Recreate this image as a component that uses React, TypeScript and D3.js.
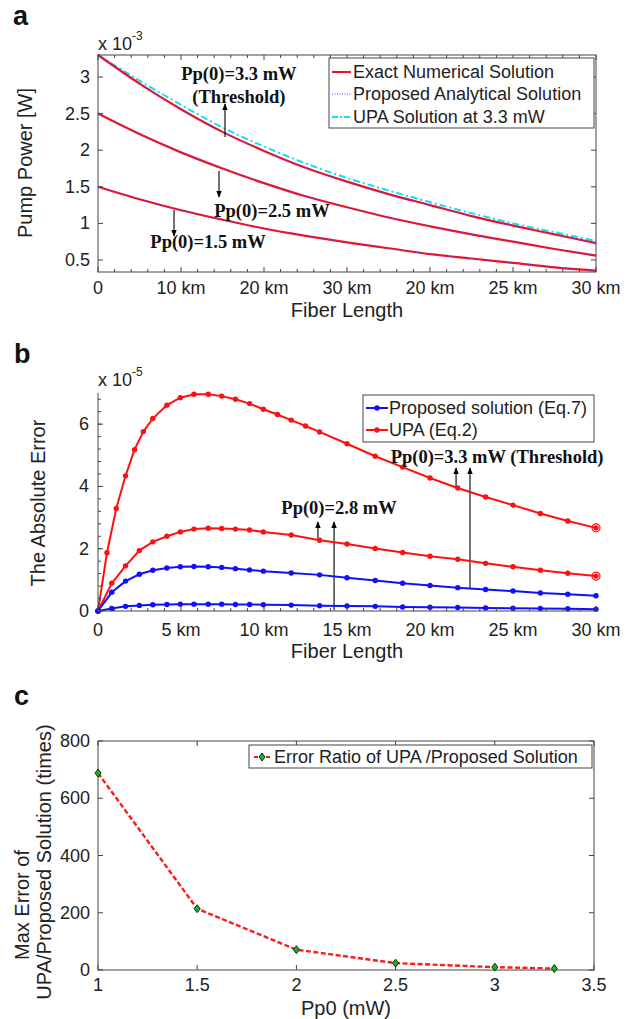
import React from 'react';
import * as d3 from 'd3';

const SANS = "'Liberation Sans', Arial, sans-serif";
const SERIF = "'Liberation Serif', 'Times New Roman', serif";
const AXIS = '#444';

// ---------- Panel a data (Pump power, x1e-3 W) ----------
const aKm = [0, 2.5, 5, 7.5, 10, 12.5, 15, 17.5, 20, 22.5, 25, 27.5, 30];
const aExact33 = [3.3, 2.91, 2.56, 2.25, 1.99, 1.76, 1.57, 1.4, 1.25, 1.1, 0.97, 0.85, 0.73];
const aProp33 = [3.3, 2.91, 2.56, 2.25, 1.99, 1.76, 1.57, 1.4, 1.25, 1.1, 0.97, 0.85, 0.73];
const aUpa33 = [3.3, 2.95, 2.62, 2.31, 2.05, 1.82, 1.62, 1.45, 1.29, 1.14, 1.0, 0.88, 0.76];
const aExact25 = [2.5, 2.22, 1.97, 1.75, 1.55, 1.37, 1.22, 1.08, 0.96, 0.85, 0.75, 0.65, 0.56];
const aProp25 = [2.5, 2.22, 1.97, 1.75, 1.55, 1.37, 1.22, 1.08, 0.96, 0.85, 0.75, 0.65, 0.56];
const aExact15 = [1.5, 1.33, 1.18, 1.05, 0.93, 0.83, 0.74, 0.66, 0.58, 0.52, 0.46, 0.4, 0.355];
const aProp15 = [1.5, 1.33, 1.18, 1.05, 0.93, 0.83, 0.74, 0.66, 0.58, 0.52, 0.46, 0.4, 0.355];
const aXTicks = [0, 5, 10, 15, 20, 25, 30];
const aXTickLabels = ['0', '10 km', '20 km', '30 km', '20 km', '25 km', '30 km'];
const aYTicks = [0.5, 1, 1.5, 2, 2.5, 3];
const aYTickLabels = ['0.5', '1', '1.5', '2', '2.5', '3'];
const aLegend = ['Exact Numerical Solution', 'Proposed Analytical Solution', 'UPA Solution at 3.3 mW'];

// ---------- Panel b data (absolute error, x1e-5) ----------
const bKmFine = [0, 0.54, 1.1, 1.66, 2.2, 2.73, 3.3, 4.15, 4.96, 5.78, 6.64, 7.45, 8.28, 9.13, 9.96, 10.81, 11.64, 12.5, 13.35, 15.0, 16.7, 18.35, 20.0, 21.67, 23.35, 25.0, 26.65, 28.3, 30.0];
const bUpa33 = [0, 1.87, 3.29, 4.34, 5.18, 5.76, 6.18, 6.61, 6.85, 6.96, 6.96, 6.9, 6.8, 6.66, 6.48, 6.31, 6.13, 5.94, 5.75, 5.37, 4.97, 4.62, 4.27, 3.95, 3.66, 3.4, 3.13, 2.89, 2.67];
const bKmCoarse = [0, 0.83, 1.66, 2.49, 3.3, 4.15, 4.96, 5.78, 6.64, 7.45, 8.28, 9.13, 9.96, 11.64, 13.35, 15.0, 16.7, 18.35, 20.0, 21.67, 23.35, 25.0, 26.65, 28.3, 30.0];
const bUpa28 = [0, 0.89, 1.45, 1.94, 2.22, 2.4, 2.54, 2.63, 2.66, 2.65, 2.63, 2.6, 2.54, 2.44, 2.27, 2.15, 2.01, 1.88, 1.76, 1.66, 1.53, 1.42, 1.31, 1.21, 1.12];
const bProp33 = [0, 0.6, 0.96, 1.18, 1.31, 1.38, 1.42, 1.43, 1.42, 1.4, 1.36, 1.32, 1.28, 1.22, 1.16, 1.07, 0.98, 0.89, 0.82, 0.75, 0.69, 0.64, 0.58, 0.54, 0.49];
const bProp28 = [0, 0.08, 0.15, 0.18, 0.2, 0.21, 0.22, 0.22, 0.22, 0.22, 0.21, 0.21, 0.2, 0.19, 0.17, 0.16, 0.15, 0.13, 0.12, 0.11, 0.1, 0.09, 0.08, 0.07, 0.06];
const bXTicks = [0, 5, 10, 15, 20, 25, 30];
const bXTickLabels = ['0', '5 km', '10 km', '15 km', '20 km', '25 km', '30 km'];
const bYTicks = [0, 2, 4, 6];
const bYTickLabels = ['0', '2', '4', '6'];
const bLegend = ['Proposed solution (Eq.7)', 'UPA (Eq.2)'];

// ---------- Panel c data ----------
const cPp0 = [1, 1.5, 2, 2.5, 3, 3.3];
const cRatio = [688, 214, 71, 24, 10, 5];
const cXTicks = [1, 1.5, 2, 2.5, 3, 3.5];
const cXTickLabels = ['1', '1.5', '2', '2.5', '3', '3.5'];
const cYTicks = [0, 200, 400, 600, 800];
const cYTickLabels = ['0', '200', '400', '600', '800'];
const cLegend = ['Error Ratio of UPA /Proposed Solution'];

function minorRange(a: number, b: number, step: number) {
  const out: number[] = [];
  for (let v = a; v <= b + 1e-9; v += step) out.push(+v.toFixed(4));
  return out;
}

export default function App() {
  // ---------- scales ----------
  const ax = d3.scaleLinear().domain([0, 30]).range([98, 596]);
  const ay = d3.scaleLinear().domain([0.336, 3.3]).range([272, 55]);
  const bx = d3.scaleLinear().domain([0, 30]).range([98, 596]);
  const by = d3.scaleLinear().domain([0, 7]).range([611, 393]);
  const cx = d3.scaleLinear().domain([1, 3.5]).range([98, 594]);
  const cy = d3.scaleLinear().domain([0, 800]).range([970, 741]);

  const lineA = (xs: number[], ys: number[]) =>
    d3.line<number>().x((_, i) => ax(xs[i])).y((d) => ay(d)).curve(d3.curveMonotoneX)(ys) || '';
  const lineB = (xs: number[], ys: number[]) =>
    d3.line<number>().x((_, i) => bx(xs[i])).y((d) => by(d))(ys) || '';
  const lineC = d3.line<number>().x((_, i) => cx(cPp0[i])).y((d) => cy(d))(cRatio) || '';

  const aMinor = minorRange(0, 30, 1);
  const bMinorX = minorRange(0, 30, 1);
  const bMinorY = minorRange(0, 7, 0.4);

  const arrow = (x1: number, y1: number, x2: number, y2: number, key: string) => (
    <line key={key} x1={x1} y1={y1} x2={x2} y2={y2} stroke="#000" strokeWidth={1.1} markerEnd="url(#arrowhead)" />
  );

  const redA = '#f01020';
  const blueDot = '#4a4aff';
  const cyan = '#10e0f0';

  const bSeries = [
    { xs: bKmFine, ys: bUpa33, color: '#ff1010' },
    { xs: bKmCoarse, ys: bUpa28, color: '#ff1010' },
    { xs: bKmCoarse, ys: bProp33, color: '#1010ff' },
    { xs: bKmCoarse, ys: bProp28, color: '#1010ff' },
  ];

  return (
    <svg width={632} height={1019} style={{ position: 'absolute', left: 0, top: 0, background: '#fff' }} fontFamily={SANS}>
      <defs>
        <marker id="arrowhead" viewBox="0 0 10 10" refX="9" refY="5" markerWidth="7" markerHeight="7" orient="auto" markerUnits="userSpaceOnUse">
          <path d="M0,1 L10,5 L0,9 Z" fill="#000" />
        </marker>
      </defs>
      <rect x={0} y={0} width={632} height={1019} fill="#fff" />

      {/* ================= Panel a ================= */}
      <text x={13} y={25} fontSize={27} fontWeight="bold" fill="#111">a</text>
      <text x={98} y={50} fontSize={18} fill="#222">x 10<tspan fontSize={12} dy={-10}>-3</tspan></text>
      <g>
        {/* curves */}
        <path d={lineA(aKm, aUpa33)} fill="none" stroke={cyan} strokeWidth={2} strokeDasharray="7,3,2,3" />
        <path d={lineA(aKm, aExact33)} fill="none" stroke={redA} strokeWidth={2.2} />
        <path d={lineA(aKm, aExact25)} fill="none" stroke={redA} strokeWidth={2.2} />
        <path d={lineA(aKm, aExact15)} fill="none" stroke={redA} strokeWidth={2.2} />
        <path d={lineA(aKm, aProp33)} fill="none" stroke={blueDot} strokeWidth={1} strokeDasharray="1,1.5" opacity={0.8} />
        <path d={lineA(aKm, aProp25)} fill="none" stroke={blueDot} strokeWidth={1} strokeDasharray="1,1.5" opacity={0.8} />
        <path d={lineA(aKm, aProp15)} fill="none" stroke={blueDot} strokeWidth={1} strokeDasharray="1,1.5" opacity={0.8} />

        {/* box */}
        <rect x={ax(0)} y={ay(3.3)} width={ax(30) - ax(0)} height={ay(0.336) - ay(3.3)} fill="none" stroke={AXIS} strokeWidth={1} />
        {aMinor.map((v) => (
          <g key={'am' + v}>
            <line x1={ax(v)} x2={ax(v)} y1={ay(0.336)} y2={ay(0.336) - (v % 5 === 0 ? 5 : 3)} stroke={AXIS} />
            <line x1={ax(v)} x2={ax(v)} y1={ay(3.3)} y2={ay(3.3) + (v % 5 === 0 ? 5 : 3)} stroke={AXIS} />
          </g>
        ))}
        {aYTicks.map((v, i) => (
          <g key={'ay' + v}>
            <line x1={ax(0)} x2={ax(0) + 5} y1={ay(v)} y2={ay(v)} stroke={AXIS} />
            <line x1={ax(30)} x2={ax(30) - 5} y1={ay(v)} y2={ay(v)} stroke={AXIS} />
            <text x={90} y={ay(v)} fontSize={18} textAnchor="end" dominantBaseline="central" fill="#222">{aYTickLabels[i]}</text>
          </g>
        ))}
        {aXTicks.map((v, i) => (
          <text key={'axl' + i} x={ax(v)} y={288} fontSize={18} textAnchor="middle" dominantBaseline="central" fill="#222">{aXTickLabels[i]}</text>
        ))}
        <text x={347} y={310} fontSize={20} textAnchor="middle" dominantBaseline="central" fill="#222">Fiber Length</text>
        <text transform={`translate(25,163) rotate(-90)`} fontSize={20} textAnchor="middle" dominantBaseline="central" fill="#222">Pump Power [W]</text>

        {/* annotations */}
        <text x={ax(8.49)} y={ay(3.04)} fontFamily={SERIF} fontWeight="bold" fontSize={18.5} textAnchor="middle" dominantBaseline="central" fill="#111">Pp(0)=3.3 mW</text>
        <text x={ax(8.49)} y={ay(2.726)} fontFamily={SERIF} fontWeight="bold" fontSize={18.5} textAnchor="middle" dominantBaseline="central" fill="#111">(Threshold)</text>
        {arrow(ax(7.65), ay(2.18), ax(7.65), ay(2.63), 'aa1')}
        <text x={ax(10.48)} y={ay(1.169)} fontFamily={SERIF} fontWeight="bold" fontSize={18.5} textAnchor="middle" dominantBaseline="central" fill="#111">Pp(0)=2.5 mW</text>
        {arrow(ax(7.29), ay(1.716), ax(7.29), ay(1.36), 'aa2')}
        <text x={ax(6.63)} y={ay(0.746)} fontFamily={SERIF} fontWeight="bold" fontSize={18.5} textAnchor="middle" dominantBaseline="central" fill="#111">Pp(0)=1.5 mW</text>
        {arrow(ax(4.58), ay(1.183), ax(4.58), ay(0.828), 'aa3')}

        {/* legend */}
        <rect x={329} y={58} width={265} height={70} fill="#fff" stroke={AXIS} />
        <line x1={332} x2={351} y1={72} y2={72} stroke={redA} strokeWidth={2} />
        <line x1={332} x2={351} y1={94} y2={94} stroke={blueDot} strokeWidth={1.2} strokeDasharray="1,1.5" />
        <line x1={332} x2={351} y1={117} y2={117} stroke={cyan} strokeWidth={2} strokeDasharray="6,2,2,2" />
        {aLegend.map((t, i) => (
          <text key={'al' + i} x={353} y={[72, 94, 117][i]} fontSize={18} dominantBaseline="central" fill="#222">{t}</text>
        ))}
      </g>

      {/* ================= Panel b ================= */}
      <text x={14} y={363} fontSize={27} fontWeight="bold" fill="#111">b</text>
      <text x={98} y={386} fontSize={18} fill="#222">x 10<tspan fontSize={12} dy={-10}>-5</tspan></text>
      <g>
        {/* arrows behind curves */}
        {arrow(bx(22.41), by(0.74), bx(22.41), by(4.59), 'ba1')}
        {arrow(bx(21.57), by(3.95), bx(21.57), by(4.59), 'ba2')}
        {arrow(bx(14.22), by(0.03), bx(14.22), by(2.86), 'ba3')}
        {arrow(bx(13.25), by(2.28), bx(13.25), by(2.86), 'ba4')}

        {bSeries.map((s, k) => (
          <g key={'bs' + k}>
            <path d={lineB(s.xs, s.ys)} fill="none" stroke={s.color} strokeWidth={2} />
            {s.ys.map((v, i) => (
              <circle key={i} cx={bx(s.xs[i])} cy={by(v)} r={2.7} fill={s.color} />
            ))}
          </g>
        ))}
        <circle cx={bx(30)} cy={by(bUpa33[bUpa33.length - 1])} r={4} fill="none" stroke="#ff1010" strokeWidth={1.2} />
        <circle cx={bx(30)} cy={by(bUpa28[bUpa28.length - 1])} r={4} fill="none" stroke="#ff1010" strokeWidth={1.2} />

        {/* axes */}
        <line x1={bx(0)} x2={bx(30)} y1={by(0)} y2={by(0)} stroke={AXIS} />
        <line x1={bx(0)} x2={bx(0)} y1={by(0)} y2={by(7)} stroke={AXIS} />
        {bMinorX.map((v) => (
          <line key={'bmx' + v} x1={bx(v)} x2={bx(v)} y1={by(0)} y2={by(0) - (v % 5 === 0 ? 5 : 3)} stroke={AXIS} />
        ))}
        {bMinorY.map((v) => (
          <line key={'bmy' + v} x1={bx(0)} x2={bx(0) + 3} y1={by(v)} y2={by(v)} stroke={AXIS} />
        ))}
        {bYTicks.map((v, i) => (
          <g key={'by' + v}>
            <line x1={bx(0)} x2={bx(0) + 5} y1={by(v)} y2={by(v)} stroke={AXIS} />
            <text x={89} y={by(v)} fontSize={18} textAnchor="end" dominantBaseline="central" fill="#222">{bYTickLabels[i]}</text>
          </g>
        ))}
        {bXTicks.map((v, i) => (
          <text key={'bxl' + i} x={bx(v)} y={630} fontSize={18} textAnchor="middle" dominantBaseline="central" fill="#222">{bXTickLabels[i]}</text>
        ))}
        <text x={347} y={651} fontSize={20} textAnchor="middle" dominantBaseline="central" fill="#222">Fiber Length</text>
        <text transform={`translate(38,503) rotate(-90)`} fontSize={20} textAnchor="middle" dominantBaseline="central" fill="#222">The Absolute Error</text>

        {/* annotations */}
        <text x={bx(24.04)} y={by(4.95)} fontFamily={SERIF} fontWeight="bold" fontSize={18.5} textAnchor="middle" dominantBaseline="central" fill="#111">Pp(0)=3.3 mW (Threshold)</text>
        <text x={bx(14.52)} y={by(3.31)} fontFamily={SERIF} fontWeight="bold" fontSize={18.5} textAnchor="middle" dominantBaseline="central" fill="#111">Pp(0)=2.8 mW</text>

        {/* legend */}
        <rect x={363} y={395} width={231} height={47} fill="#fff" stroke={AXIS} />
        <line x1={366} x2={388} y1={408} y2={408} stroke="#1010ff" strokeWidth={2} />
        <circle cx={377} cy={408} r={2.7} fill="#1010ff" />
        <line x1={366} x2={388} y1={430} y2={430} stroke="#ff1010" strokeWidth={2} />
        <circle cx={377} cy={430} r={2.7} fill="#ff1010" />
        {bLegend.map((t, i) => (
          <text key={'bl' + i} x={389} y={[408, 430][i]} fontSize={18} dominantBaseline="central" fill="#222">{t}</text>
        ))}
      </g>

      {/* ================= Panel c ================= */}
      <text x={14} y={705} fontSize={27} fontWeight="bold" fill="#111">c</text>
      <g>
        <rect x={cx(1)} y={cy(800)} width={cx(3.5) - cx(1)} height={cy(0) - cy(800)} fill="none" stroke={AXIS} />
        {cXTicks.map((v, i) => (
          <g key={'cx' + v}>
            <line x1={cx(v)} x2={cx(v)} y1={cy(0)} y2={cy(0) - 5} stroke={AXIS} />
            <line x1={cx(v)} x2={cx(v)} y1={cy(800)} y2={cy(800) + 5} stroke={AXIS} />
            <text x={cx(v)} y={985} fontSize={18} textAnchor="middle" dominantBaseline="central" fill="#222">{cXTickLabels[i]}</text>
          </g>
        ))}
        {cYTicks.map((v, i) => (
          <g key={'cy' + v}>
            <line x1={cx(1)} x2={cx(1) + 5} y1={cy(v)} y2={cy(v)} stroke={AXIS} />
            <line x1={cx(3.5)} x2={cx(3.5) - 5} y1={cy(v)} y2={cy(v)} stroke={AXIS} />
            <text x={90} y={cy(v)} fontSize={18} textAnchor="end" dominantBaseline="central" fill="#222">{cYTickLabels[i]}</text>
          </g>
        ))}
        <path d={lineC} fill="none" stroke="#ff1a1a" strokeWidth={2.4} strokeDasharray="5,2.5" />
        {cRatio.map((v, i) => {
          const x = cx(cPp0[i]);
          const y = cy(v);
          return <path key={'cm' + i} d={`M${x},${y - 4} L${x + 3},${y} L${x},${y + 4} L${x - 3},${y} Z`} fill="#20b020" stroke="#103010" strokeWidth={1} />;
        })}
        <text x={346} y={1008} fontSize={20} textAnchor="middle" dominantBaseline="central" fill="#222">Pp0 (mW)</text>
        <text transform={`translate(22,905) rotate(-90)`} fontSize={20} textAnchor="middle" dominantBaseline="central" fill="#222">Max Error of</text>
        <text transform={`translate(44,862) rotate(-90)`} fontSize={20} textAnchor="middle" dominantBaseline="central" fill="#222">UPA/Proposed Solution (times)</text>

        {/* legend */}
        <rect x={249} y={745} width={343} height={23} fill="#fff" stroke={AXIS} />
        <line x1={254} x2={271} y1={757} y2={757} stroke="#ff1a1a" strokeWidth={2.2} strokeDasharray="4,2" />
        <path d="M262,753 L265,757 L262,761 L259,757 Z" fill="#20b020" stroke="#103010" strokeWidth={1} />
        {cLegend.map((t, i) => (
          <text key={'cl' + i} x={274} y={757} fontSize={18} dominantBaseline="central" fill="#222">{t}</text>
        ))}
      </g>
    </svg>
  );
}
